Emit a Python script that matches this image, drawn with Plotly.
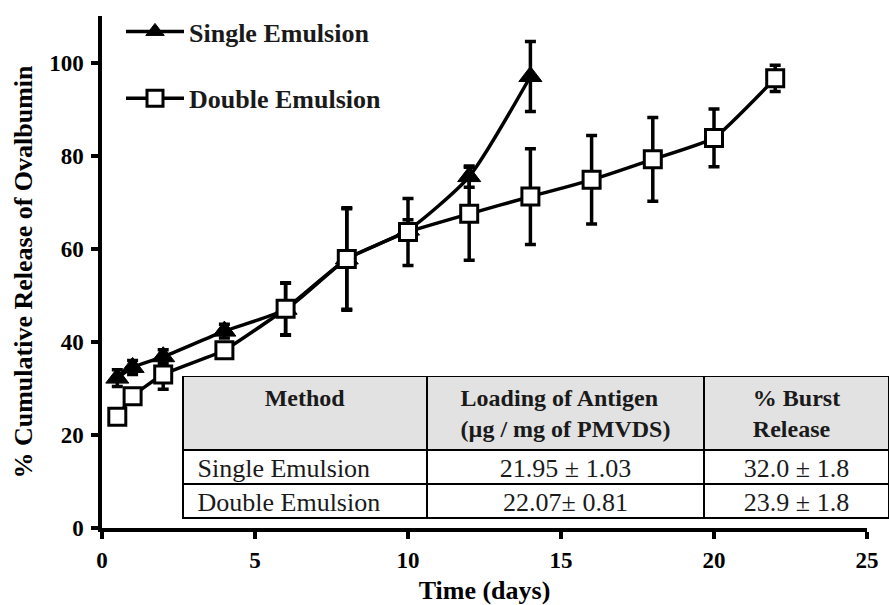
import plotly.graph_objects as go

# ---- data ----
single_x = [0.5, 1, 2, 4, 6, 8, 10, 12, 14]
single_y = [32.2, 34.5, 36.8, 42.3, 47.0, 57.8, 64.0, 75.5, 97.0]
single_err = [1.8, 1.5, 1.5, 1.5, 5.6, 10.8, 2.2, 2.3, 7.5]

double_x = [0.5, 1, 2, 4, 6, 8, 10, 12, 14, 16, 18, 20, 22]
double_y = [23.9, 28.3, 33.0, 38.2, 47.1, 57.8, 63.6, 67.5, 71.2, 74.8, 79.2, 83.8, 96.6]
double_err = [1.0, 1.0, 3.2, 1.5, 5.6, 11.0, 7.2, 10.0, 10.3, 9.5, 9.0, 6.2, 2.8]

table_header = ["<b>Method</b>", "<b>Loading of Antigen<br>(µg / mg of PMVDS)</b>", "<b>% Burst<br>Release</b>"]
table_methods = ["Single Emulsion", "Double Emulsion"]
table_loading = ["21.95 ± 1.03", "22.07± 0.81"]
table_burst = ["32.0 ± 1.8", "23.9 ± 1.8"]

x_ticks = [0, 5, 10, 15, 20, 25]
y_ticks = [0, 20, 40, 60, 80, 100]

SERIF = "Liberation Serif"

W, H = 889, 605
L, R = 102, 0
T = 16
B = H - 528.5
plot_w = W - L - R
plot_h = H - T - B
x_end = 867  # where x=25 sits


def px_x(p):
    return (p - L) / plot_w


def px_y(p):
    return (H - B - p) / plot_h


fig = go.Figure()

fig.add_trace(go.Scatter(
    x=single_x, y=single_y, name="Single Emulsion", legendgroup="s",
    mode="lines+markers",
    line=dict(color="black", width=3.5, shape="spline", smoothing=0.6),
    marker=dict(symbol="triangle-up", size=20, color="black",
                line=dict(color="black", width=1)),
    error_y=dict(type="data", array=single_err, visible=True,
                 color="black", thickness=3.5, width=5.5),
))

fig.add_trace(go.Scatter(
    x=double_x, y=double_y, name="Double Emulsion", legendgroup="d",
    mode="lines+markers",
    line=dict(color="black", width=3.5, shape="spline", smoothing=0.4),
    marker=dict(symbol="square", size=17, color="white",
                line=dict(color="black", width=3)),
    error_y=dict(type="data", array=double_err, visible=True,
                 color="black", thickness=3.5, width=5.5),
))

fig.add_trace(go.Table(
    domain=dict(x=[px_x(183), 1.0], y=[px_y(527), px_y(377)]),
    columnwidth=[244, 277, 185],
    header=dict(values=table_header,
                fill_color="#e2e2e2",
                line=dict(color="black", width=1.5),
                align="center",
                height=70,
                font=dict(family=SERIF, size=24, color="#1a1a1a")),
    cells=dict(values=[["\u00a0" + m for m in table_methods], table_loading, table_burst],
               fill_color="white",
               line=dict(color="black", width=1.5),
               align=["left", "center", "center"],
               height=34,
               font=dict(family=SERIF, size=26, color="#1a1a1a")),
))

fig.update_layout(
    width=W, height=H, autosize=False,
    margin=dict(l=L, r=R, t=T, b=B, pad=0, autoexpand=False),
    paper_bgcolor="white", plot_bgcolor="white",
    font=dict(family=SERIF, color="black"),
    showlegend=True,
    legend=dict(x=px_x(121), y=px_y(8), xanchor="left", yanchor="top",
                bgcolor="rgba(0,0,0,0)", tracegroupgap=30,
                font=dict(family=SERIF, size=26, color="#1a1a1a", weight="bold"),
                itemwidth=58),
    xaxis=dict(domain=[0, (x_end - L) / plot_w], range=[0, 25], automargin=False,
               tickvals=x_ticks, showgrid=False, zeroline=False,
               showline=True, linecolor="black", linewidth=3.5,
               ticks="outside", ticklen=7, tickwidth=3.5, tickcolor="black",
               ticklabelstandoff=2,
               tickfont=dict(family=SERIF, size=23, weight="bold"),
               title=dict(text="<b>Time (days)</b>", standoff=10,
                          font=dict(family=SERIF, size=26))),
    yaxis=dict(range=[0, 110], tickvals=y_ticks, showgrid=False, zeroline=False,
               automargin=False,
               showline=True, linecolor="black", linewidth=3.5,
               ticks="outside", ticklen=7, tickwidth=3.5, tickcolor="black",
               ticklabelstandoff=3,
               tickfont=dict(family=SERIF, size=23, weight="bold"),
               title=dict(text="<b>% Cumulative Release of Ovalbumin</b>", standoff=10,
                          font=dict(family=SERIF, size=26))),
)

fig.write_html(
    "out.html",
    config={"responsive": False, "displayModeBar": False},
    post_script="document.body.style.margin='0px';document.body.style.overflow='hidden';",
)
